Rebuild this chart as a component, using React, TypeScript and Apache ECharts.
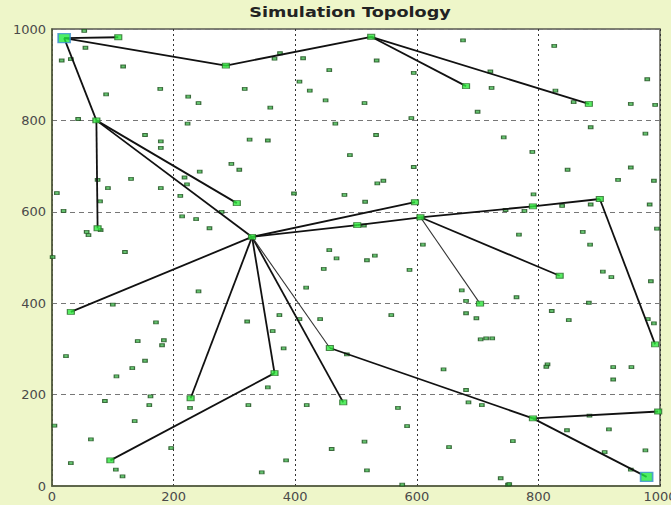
import React, { useEffect, useRef } from "react";
import * as echarts from "echarts";

const titleText = "Simulation Topology";
const axisMin = 0;
const axisMax = 1000;
const axisStep = 200;

// Cluster heads / relays (connected nodes). Index 0 and 26 are the sinks.
const clusterNodes: [number, number][] = [
  [20, 980], // 0 A sink
  [109, 982], // 1 B
  [286, 920], // 2 C
  [525, 983], // 3 D
  [681, 875], // 4 E
  [883, 836], // 5 F
  [73, 800], // 6 G
  [75, 564], // 7 H
  [304, 619], // 8 I
  [329, 545], // 9 J hub
  [31, 381], // 10 K
  [228, 192], // 11 L
  [96, 56], // 12 M
  [366, 247], // 13 N
  [479, 183], // 14 O
  [457, 302], // 15 P
  [502, 571], // 16 Q
  [597, 621], // 17 R
  [606, 588], // 18 S
  [791, 612], // 19 T
  [901, 628], // 20 U
  [835, 460], // 21 V
  [704, 399], // 22 W
  [992, 310], // 23 X
  [791, 148], // 24 Y
  [997, 163], // 25 Z
  [978, 20], // 26 sink
];
const sinkIndices = [0, 26];

const thickEdges: [number, number][] = [
  [0, 1], [0, 2], [2, 3], [3, 4], [3, 5], [0, 6], [6, 7], [6, 8], [6, 9],
  [9, 10], [9, 11], [9, 13], [13, 12], [9, 14], [15, 24], [24, 26], [24, 25],
  [9, 17], [9, 16], [16, 18], [18, 19], [19, 20], [20, 23], [18, 21],
];
const thinEdges: [number, number][] = [
  [9, 15], [18, 22],
];

const sensorNodes: [number, number][] = [
  [53, 996], [55, 959], [16, 931], [31, 934], [117, 918], [178, 869], [89, 857], [224, 852],
  [241, 838], [43, 803], [223, 793], [153, 768], [179, 754], [179, 740], [243, 688], [218, 675],
  [75, 670], [130, 672], [92, 652], [179, 652], [222, 660], [8, 641], [211, 635], [79, 623],
  [19, 602], [214, 590], [237, 584], [80, 560], [57, 556], [60, 549], [120, 512], [1, 501],
  [375, 947], [366, 935], [413, 936], [456, 910], [317, 869], [407, 885], [424, 865], [450, 844],
  [359, 828], [466, 793], [325, 758], [355, 756], [490, 724], [295, 705], [308, 692], [398, 640],
  [481, 637], [279, 600], [259, 564], [456, 516], [468, 498],
  [676, 975], [534, 931], [595, 904], [721, 907], [723, 871], [514, 838], [700, 819], [591, 805],
  [533, 768], [743, 763], [595, 698], [535, 662], [545, 668], [515, 622], [513, 570], [746, 604],
  [610, 528], [531, 504], [518, 494],
  [826, 963], [979, 890], [828, 865], [858, 840], [952, 836], [992, 834], [886, 785], [976, 771],
  [790, 731], [848, 692], [952, 697], [931, 670], [990, 668], [792, 638], [839, 613], [886, 616],
  [983, 616], [777, 602], [995, 563], [768, 550], [873, 556], [885, 528],
  [241, 426], [100, 397], [171, 358], [141, 317], [184, 319], [181, 308], [23, 284], [153, 274],
  [132, 258], [106, 240], [87, 186], [162, 196], [160, 177], [227, 171], [136, 142], [4, 132],
  [64, 102], [196, 83], [31, 50], [105, 36], [116, 21],
  [447, 475], [418, 434], [374, 374], [321, 360], [407, 365], [441, 365], [363, 339], [381, 301],
  [485, 288], [355, 216], [323, 177], [419, 177], [460, 81], [385, 56], [345, 30],
  [588, 473], [674, 428], [681, 405], [558, 374], [681, 378], [698, 367], [705, 321], [714, 323],
  [724, 323], [644, 255], [681, 210], [685, 183], [707, 177], [569, 171], [584, 131], [514, 97],
  [653, 85], [518, 34], [576, 3], [738, 17], [750, 3],
  [906, 469], [920, 457], [985, 448], [764, 413], [883, 401], [822, 383], [850, 363], [980, 365],
  [990, 356], [815, 266], [813, 261], [923, 260], [953, 260], [923, 233], [884, 154], [847, 122],
  [916, 124], [758, 98], [909, 74], [976, 78], [952, 36], [752, 4],
];

export default function App() {
  const ref = useRef<HTMLDivElement>(null);
  useEffect(() => {
    if (!ref.current) return;
    const chart = echarts.init(ref.current, undefined, { renderer: "svg" });
    const relays = clusterNodes.filter((_, i) => !sinkIndices.includes(i));
    const sinks = sinkIndices.map((i) => clusterNodes[i]);
    const toLines = (list: [number, number][]) =>
      list.map(([a, b]) => ({ coords: [clusterNodes[a], clusterNodes[b]] }));
    const labelStyle = {
      fontSize: 13,
      color: "#4a4a4a",
      fontFamily: "DejaVu Sans",
      formatter: (v: number) => String(v),
    };
    chart.setOption({
      animation: false,
      backgroundColor: "#eef6c9",
      graphic: [
        {
          type: "text",
          x: 350,
          y: 12.5,
          scaleX: 1.26,
          style: {
            text: titleText,
            font: "bold 14px DejaVu Sans",
            fill: "#222",
            textAlign: "center",
            textVerticalAlign: "middle",
          },
        },
      ],
      grid: {
        left: 52,
        right: 11,
        top: 29,
        bottom: 19,
        outerBoundsMode: "none",
        containLabel: false,
        show: true,
        backgroundColor: "#ffffff",
        borderColor: "#5a5a50",
        borderWidth: 1.5,
      },
      xAxis: {
        type: "value",
        min: axisMin,
        max: axisMax,
        interval: axisStep,
        axisLine: { show: true, lineStyle: { color: "#56603f", width: 1.5 } },
        axisTick: { show: false },
        axisLabel: { ...labelStyle, margin: 4 },
        splitLine: { show: true, lineStyle: { type: [2, 3], color: "#333", width: 1 } },
      },
      yAxis: {
        type: "value",
        min: axisMin,
        max: axisMax,
        interval: axisStep,
        axisLine: { show: true, lineStyle: { color: "#56603f", width: 1.5 } },
        axisTick: { show: false },
        axisLabel: { ...labelStyle, margin: 6 },
        splitLine: { show: true, lineStyle: { type: [5, 4], color: "#777", width: 1 } },
      },
      series: [
        {
          type: "scatter",
          symbol: "rect",
          symbolSize: [4.5, 3],
          data: sensorNodes,
          itemStyle: { color: "#3db24a", borderColor: "#1d4d1d", borderWidth: 1 },
          z: 2,
        },
        {
          type: "lines",
          coordinateSystem: "cartesian2d",
          data: toLines(thickEdges),
          lineStyle: { color: "#111", width: 1.8, opacity: 1 },
          z: 3,
        },
        {
          type: "lines",
          coordinateSystem: "cartesian2d",
          data: toLines(thinEdges),
          lineStyle: { color: "#333", width: 1.1, opacity: 1 },
          z: 3,
        },
        {
          type: "scatter",
          symbol: "rect",
          symbolSize: [7, 5],
          data: relays,
          itemStyle: { color: "#2ee83c", borderColor: "#2a6a2a", borderWidth: 1 },
          z: 4,
        },
        {
          type: "scatter",
          symbol: "rect",
          symbolSize: [12, 9],
          data: sinks,
          itemStyle: { color: "#1fea3f", borderColor: "#3a8fd0", borderWidth: 1.5 },
          z: 5,
        },
      ],
    });
    return () => chart.dispose();
  }, []);
  return (
    <div
      ref={ref}
      style={{ position: "fixed", left: 0, top: 0, width: 671, height: 505 }}
    />
  );
}
